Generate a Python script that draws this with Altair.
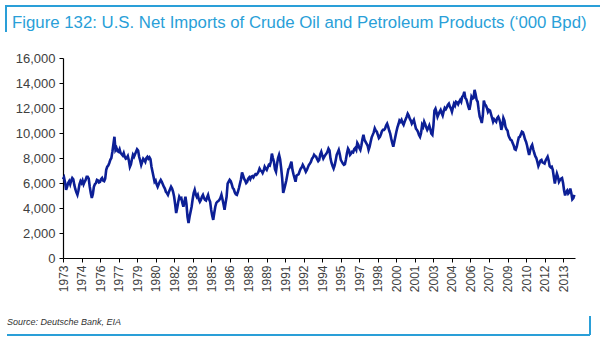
import json
import altair as alt
import pandas as pd

# Monthly U.S. net imports ('000 bpd), Jan 1973 .. Jun 2014
Y1973 = [6300, 6450, 6050, 5450, 5700, 6000, 6150, 5900, 6200, 6400, 6300, 5850]
Y1974 = [5500, 5250, 5050, 5400, 5900, 6150, 6000, 6200, 5900, 6100, 6250, 6500]
Y1975 = [6500, 6350, 5700, 5200, 4800, 5100, 5700, 5900, 6000, 6250, 6200, 6050]
Y1976 = [6100, 6300, 6400, 6200, 6150, 6350, 7050, 7300, 7400, 7600, 7850, 8000]
Y1977 = [8500, 9100, 9700, 8650, 8800, 8550, 8500, 8700, 8400, 8300, 8200, 8400]
Y1978 = [8100, 7950, 8000, 8150, 7800, 7300, 7500, 7900, 8250, 8100, 8300, 8500]
Y1979 = [8700, 8600, 8100, 7800, 7450, 7700, 7950, 7850, 7700, 8000, 8100, 7950]
Y1980 = [8050, 7900, 7300, 6900, 6500, 6100, 6200, 5900, 5700, 5900, 6100, 6250]
Y1981 = [6100, 5900, 5700, 5550, 5300, 5200, 5050, 5300, 5500, 5700, 5550, 5300]
Y1982 = [4900, 4300, 3600, 4000, 4500, 4900, 4750, 4800, 4400, 4100, 4500, 4900]
Y1983 = [4300, 3300, 2800, 3300, 3700, 4100, 4700, 5200, 5450, 5100, 4900, 5050]
Y1984 = [4700, 4500, 4650, 4900, 5050, 4800, 4650, 4600, 4850, 5050, 4700, 4500]
Y1985 = [3850, 3400, 3050, 3600, 4100, 4400, 4500, 4550, 4650, 4800, 5050, 4700]
Y1986 = [4300, 3850, 4400, 4900, 5950, 6100, 6250, 6150, 5900, 5600, 5500, 5250]
Y1987 = [5100, 5050, 5300, 5600, 5950, 6300, 6850, 6600, 6350, 6200, 6000, 6100]
Y1988 = [6350, 6450, 6300, 6500, 6550, 6450, 6600, 6700, 6650, 6750, 6900, 7150]
Y1989 = [7000, 6950, 6800, 7000, 7300, 7150, 7050, 7250, 7450, 7400, 7700, 8350]
Y1990 = [8000, 7700, 7100, 6900, 7500, 8000, 8250, 7900, 7200, 6400, 5200, 5500]
Y1991 = [5850, 6200, 6650, 7100, 7200, 7450, 7700, 7050, 6700, 6400, 6100, 6600]
Y1992 = [6650, 6700, 6950, 7150, 7250, 7450, 7300, 7100, 6900, 7050, 7250, 7450]
Y1993 = [7550, 7700, 7950, 8050, 8250, 8150, 8100, 7900, 7750, 7850, 8300, 8500]
Y1994 = [8200, 7950, 8100, 8250, 8350, 8500, 8750, 8600, 7950, 7600, 7350, 7150]
Y1995 = [7400, 7800, 8250, 8450, 8650, 8300, 7850, 7700, 7550, 7450, 7500, 7900]
Y1996 = [8400, 8750, 8600, 8250, 8350, 8500, 8450, 8700, 8800, 8650, 9200, 9050]
Y1997 = [8800, 8650, 9000, 9500, 9850, 9450, 9300, 9150, 9000, 8650, 8900, 9300]
Y1998 = [9650, 9850, 10050, 10370, 10200, 10100, 9850, 9600, 9700, 9900, 10150, 10250]
Y1999 = [10250, 10350, 10600, 10750, 10500, 10200, 9950, 9550, 9200, 8900, 9300, 9700]
Y2000 = [10100, 10450, 10700, 11000, 10900, 11050, 10800, 10650, 10900, 11100, 11300, 11550]
Y2001 = [11400, 11150, 11000, 10750, 10900, 11050, 10700, 10350, 10250, 10100, 9850, 9700]
Y2002 = [10000, 10650, 10500, 10900, 10700, 10450, 10250, 10400, 10600, 10300, 9950, 9850]
Y2003 = [10600, 11800, 11950, 11650, 11300, 11500, 11700, 11850, 11600, 11400, 11750, 12000]
Y2004 = [11900, 12050, 12250, 12350, 12100, 11950, 11700, 12050, 12350, 12200, 12500, 12450]
Y2005 = [12300, 12500, 12650, 12500, 12900, 13000, 13300, 12800, 12700, 12400, 12100, 11850]
Y2006 = [12300, 12900, 12750, 12800, 13450, 13100, 12650, 12500, 11850, 11300, 11100, 10800]
Y2007 = [11400, 12600, 12300, 12200, 12000, 11700, 11850, 11800, 11500, 11200, 10900, 11100]
Y2008 = [11000, 10900, 11200, 11300, 11100, 10800, 10250, 10600, 11200, 11000, 10500, 10300]
Y2009 = [10200, 9800, 9600, 9450, 9400, 9200, 9000, 8700, 8650, 8900, 9300, 9650]
Y2010 = [9700, 9900, 10100, 10050, 9800, 9500, 9300, 9000, 8600, 8250, 8600, 8900]
Y2011 = [9050, 8700, 8400, 8150, 8000, 7700, 7350, 7550, 7800, 7850, 7650, 7600]
Y2012 = [7550, 7800, 7950, 8100, 7800, 7350, 7250, 7300, 7050, 6500, 5950, 6400]
Y2013 = [6750, 6500, 6100, 6250, 6350, 6400, 6000, 5400, 5000, 5300, 5400, 5150]
Y2014 = [5250, 5550, 5200, 4700, 4800, 5050]

YEARS = [Y1973, Y1974, Y1975, Y1976, Y1977, Y1978, Y1979, Y1980, Y1981, Y1982,
         Y1983, Y1984, Y1985, Y1986, Y1987, Y1988, Y1989, Y1990, Y1991, Y1992,
         Y1993, Y1994, Y1995, Y1996, Y1997, Y1998, Y1999, Y2000, Y2001, Y2002,
         Y2003, Y2004, Y2005, Y2006, Y2007, Y2008, Y2009, Y2010, Y2011, Y2012,
         Y2013, Y2014]

TICK_LABELS = ["1973", "1974", "1976", "1977", "1979", "1980", "1982", "1983",
               "1985", "1986", "1988", "1989", "1991", "1992", "1994", "1995",
               "1997", "1998", "2000", "2001", "2003", "2004", "2006", "2007",
               "2009", "2010", "2012", "2013"]
TICK_MONTHS = [18 * i for i in range(len(TICK_LABELS))]
Y_TICKS = [0, 2000, 4000, 6000, 8000, 10000, 12000, 14000, 16000]

TITLE = "Figure 132: U.S. Net Imports of Crude Oil and Petroleum Products (\u2018000 Bpd)"
SOURCE = "Source: Deutsche Bank, EIA"

values = [v for yr in YEARS for v in yr]
df = pd.DataFrame({"month": list(range(len(values))), "imports": values})

BLUE = "#2a9fd8"
FONT = "Liberation Sans"

label_expr = json.dumps(TICK_LABELS) + "[round(datum.value / 18)]"

line = alt.Chart(df).mark_line(color="#0c1f96", strokeWidth=2.6).encode(
    x=alt.X("month:Q",
            scale=alt.Scale(domain=[0, 497.6], nice=False, zero=False),
            axis=alt.Axis(values=TICK_MONTHS, labelExpr=label_expr, labelAngle=-90,
                          title=None, grid=False, labelFontSize=12, labelPadding=3)),
    y=alt.Y("imports:Q",
            scale=alt.Scale(domain=[0, 16000], nice=False),
            axis=alt.Axis(values=Y_TICKS, format=",.0f", title=None, grid=False,
                          labelFontSize=13, labelPadding=4)),
)

one = pd.DataFrame({"k": [0]})

def rule(x, x2, y, y2):
    return alt.Chart(one).mark_rule(color=BLUE, strokeWidth=2).encode(
        x=alt.value(x), x2=alt.value(x2), y=alt.value(y), y2=alt.value(y2))

top_line = rule(-58, 537, -52, -52)
left_line = rule(-57, -57, -52, -26)
bottom_line = rule(-56, 527, 277, 277)
right_line = rule(527, 527, 258, 277)

title = alt.Chart(one).mark_text(align="left", baseline="alphabetic", font=FONT,
                                 fontSize=16.8, color=BLUE).encode(
    x=alt.value(-51), y=alt.value(-30), text=alt.value(TITLE))

source = alt.Chart(one).mark_text(align="left", baseline="alphabetic", font=FONT,
                                  fontSize=9, fontStyle="italic", color="#333333").encode(
    x=alt.value(-56), y=alt.value(267), text=alt.value(SOURCE))

chart = alt.layer(line, top_line, left_line, bottom_line, right_line, title, source).properties(
    width=512, height=200,
    autosize=alt.AutoSizeParams(type="none"),
    padding={"left": 63, "top": 58, "right": 25, "bottom": 84},
    background="white",
).configure_view(strokeWidth=0).configure_axis(
    domainColor="#000000", domainWidth=1.2, tickColor="#000000", tickSize=4,
    labelColor="#404040", labelFont=FONT,
)

chart.save("out.html", embed_options={"renderer": "svg", "actions": False})
